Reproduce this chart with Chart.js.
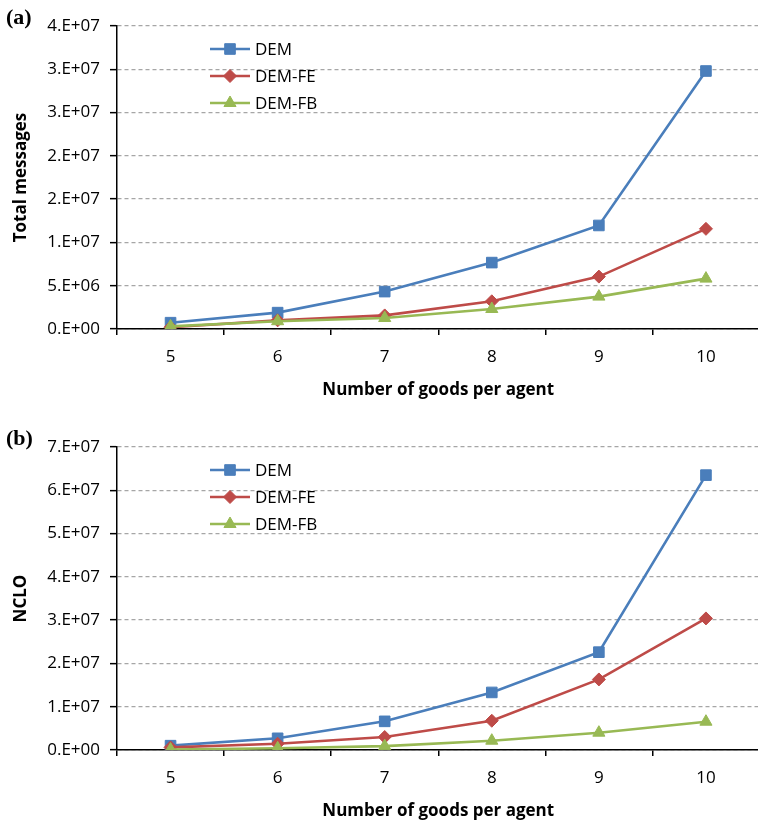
<!DOCTYPE html>
<html>
<head>
<meta charset="utf-8">
<title>Messages and NCLO vs. goods per agent</title>
<script src="https://cdn.jsdelivr.net/npm/chart.js@4/dist/chart.umd.min.js"></script>
<style>
  html, body { margin: 0; padding: 0; background: #fff; overflow: hidden; }
  .panel { position: relative; width: 758px; height: 421px; overflow: hidden; }
  .panel canvas { position: absolute; left: 0; top: 0; }
  .tag { position: absolute; left: 6px; font: bold 22px "Liberation Serif", "DejaVu Serif", serif; color: #000; }
</style>
</head>
<body>
<div class="panel"><canvas id="chartA" width="768" height="421"></canvas><div class="tag" style="top:4px">(a)</div></div>
<div class="panel"><canvas id="chartB" width="768" height="421"></canvas><div class="tag" style="top:4px">(b)</div></div>
<script>
// Number of goods per agent
const goods = ['5', '6', '7', '8', '9', '10'];

// (a) total messages exchanged
const totalDEM   = [0.73e6, 1.89e6, 4.32e6, 7.67e6, 1.196e7, 2.98e7];
const totalDEMFE = [0.2e6, 1.0e6, 1.57e6, 3.2e6, 6.05e6, 1.157e7];
const totalDEMFB = [0.3e6, 0.9e6, 1.27e6, 2.31e6, 3.74e6, 5.82e6];
const totalTicks = [0, 5e6, 1e7, 1.5e7, 2e7, 2.5e7, 3e7, 3.5e7];

// (b) NCLO
const ncloDEM   = [1.0e6, 2.7e6, 6.62e6, 1.33e7, 2.26e7, 6.35e7];
const ncloDEMFE = [0.6e6, 1.45e6, 3.0e6, 6.76e6, 1.63e7, 3.04e7];
const ncloDEMFB = [0.1e6, 0.4e6, 0.9e6, 2.15e6, 4.0e6, 6.54e6];
const ncloTicks = [0, 1e7, 2e7, 3e7, 4e7, 5e7, 6e7, 7e7];

const seriesNames = ['DEM', 'DEM-FE', 'DEM-FB'];

const FONT = '"Open Sans", "DejaVu Sans", sans-serif';
const BLUE = '#4a7ebb', RED = '#be4b48', GREEN = '#98b954';

// Spreadsheet style "0.E+00" label
function sci(v) {
  if (v === 0) return '0.E+00';
  let e = Math.floor(Math.log10(Math.abs(v)));
  let m = Math.round(v / Math.pow(10, e));
  if (m >= 10) { m = 1; e += 1; }
  return m + '.E' + (e < 0 ? '-' : '+') + String(Math.abs(e)).padStart(2, '0');
}

function drawMarker(ctx, style, radius, x, y, color) {
  ctx.save();
  ctx.fillStyle = color;
  ctx.strokeStyle = color;
  ctx.lineWidth = 1;
  if (Chart.helpers && Chart.helpers.drawPoint) {
    Chart.helpers.drawPoint(ctx, { pointStyle: style, radius: radius, borderWidth: 1, rotation: 0 }, x, y);
  }
  ctx.restore();
}

// Legend drawn inside the plot area, upper left
const insideLegend = {
  id: 'insideLegend',
  afterDraw(chart) {
    const ctx = chart.ctx;
    const x0 = 210, x1 = 250, y0 = 49, dy = 27;
    chart.data.datasets.forEach((ds, i) => {
      const y = y0 + i * dy;
      ctx.save();
      ctx.strokeStyle = ds.borderColor;
      ctx.lineWidth = ds.borderWidth;
      ctx.beginPath();
      ctx.moveTo(x0, y);
      ctx.lineTo(x1, y);
      ctx.stroke();
      ctx.restore();
      drawMarker(ctx, ds.pointStyle, ds.pointRadius, (x0 + x1) / 2, y, ds.borderColor);
      ctx.save();
      ctx.fillStyle = '#000';
      ctx.font = '17px ' + FONT;
      ctx.textBaseline = 'middle';
      ctx.textAlign = 'left';
      ctx.fillText(ds.label, x1 + 5, y + 1);
      ctx.restore();
    });
  }
};

function makeChart(id, yTitle, values, ticks) {
  const styles = [
    { color: BLUE, point: 'rect', r: 7.5 },
    { color: RED, point: 'rectRot', r: 6.5 },
    { color: GREEN, point: 'triangle', r: 7 }
  ];
  const datasets = values.map((vals, i) => ({
    label: seriesNames[i],
    data: vals,
    borderColor: styles[i].color,
    backgroundColor: styles[i].color,
    pointBackgroundColor: styles[i].color,
    pointBorderColor: styles[i].color,
    pointStyle: styles[i].point,
    pointRadius: styles[i].r,
    pointBorderWidth: 1,
    borderWidth: 2.6,
    tension: 0,
    order: 2 - i
  }));

  return new Chart(document.getElementById(id), {
    type: 'line',
    data: { labels: goods, datasets: datasets },
    options: {
      responsive: false,
      animation: false,
      devicePixelRatio: 1,
      layout: { padding: { top: 26, right: 0, left: 0, bottom: 0 } },
      plugins: { legend: { display: false }, tooltip: { enabled: false } },
      scales: {
        x: {
          type: 'category',
          offset: true,
          grid: {
            offset: true,
            drawOnChartArea: false,
            drawTicks: true,
            tickLength: 6,
            color: '#000',
            lineWidth: 1.5
          },
          border: { display: true, color: '#000', width: 1.5 },
          ticks: { color: '#000', font: { family: FONT, size: 17 }, padding: 12, maxRotation: 0 },
          title: {
            display: true,
            text: 'Number of goods per agent',
            color: '#000',
            font: { family: FONT, size: 17, weight: 'bold' },
            padding: { top: 0, bottom: 21 }
          },
          afterFit(scale) { scale.height = 92; }
        },
        y: {
          min: ticks[0],
          max: ticks[ticks.length - 1],
          afterBuildTicks(scale) { scale.ticks = ticks.map(v => ({ value: v })); },
          grid: {
            color: '#a6a6a6',
            lineWidth: 1.3,
            drawTicks: true,
            tickLength: 7,
            tickColor: '#000',
            tickWidth: 1.5
          },
          border: { display: true, color: '#000', width: 1.5, dash: [4, 3] },
          ticks: {
            color: '#000',
            font: { family: FONT, size: 17 },
            padding: 10,
            callback: (v) => sci(v)
          },
          title: {
            display: true,
            text: yTitle,
            color: '#000',
            font: { family: FONT, size: 17, weight: 'bold' },
            padding: { top: 11, bottom: 0 }
          },
          afterFit(scale) { scale.width = 117; }
        }
      }
    },
    plugins: [insideLegend]
  });
}

makeChart('chartA', 'Total messages', [totalDEM, totalDEMFE, totalDEMFB], totalTicks);
makeChart('chartB', 'NCLO', [ncloDEM, ncloDEMFE, ncloDEMFB], ncloTicks);
</script>
</body>
</html>
